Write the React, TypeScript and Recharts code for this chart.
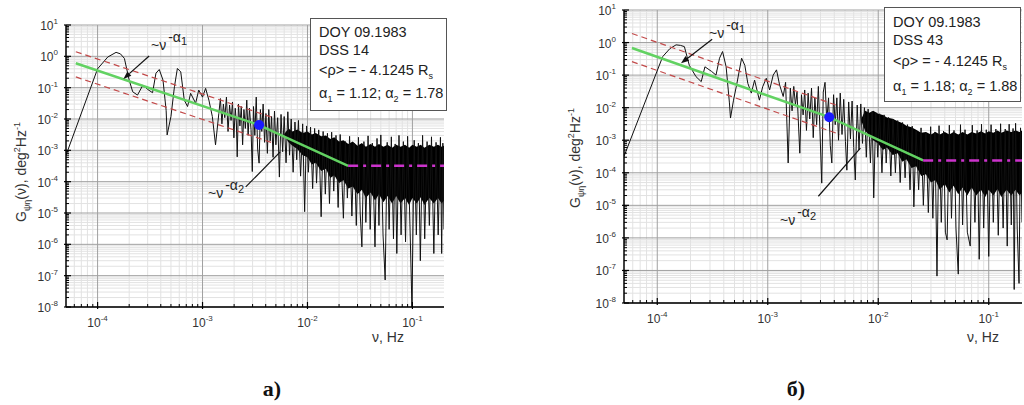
import React from "react"
import { ComposedChart, Line, Area, Scatter, XAxis, YAxis, ReferenceLine } from "recharts"

const FONT = '"Liberation Sans", Arial, sans-serif'

// axis decades
const xMajor = [1e-4, 1e-3, 1e-2, 1e-1]
const yMajor = [1e-8, 1e-7, 1e-6, 1e-5, 1e-4, 1e-3, 1e-2, 1e-1, 1, 10]
const minorSteps = [2, 3, 4, 5, 6, 7, 8, 9]
const xDecades = [1e-5, 1e-4, 1e-3, 1e-2, 1e-1]
const yDecades = [1e-8, 1e-7, 1e-6, 1e-5, 1e-4, 1e-3, 1e-2, 1e-1, 1]
const xDomain = [5e-5, 0.2]
const yDomain = [1e-8, 10]

// panel a) DSS 14 — spectrum [freq, G]
const spectrumA = [
  [5e-5, 7e-4], [1.0e-4, 0.4], [1.25e-4, 0.95], [1.5e-4, 1.34], [1.65e-4, 1.2], [1.8e-4, 0.86],
  [2.0e-4, 0.175], [2.16e-4, 0.074], [2.4e-4, 0.058], [2.7e-4, 0.12], [3.0e-4, 0.088], [3.34e-4, 0.069],
  [3.6e-4, 0.29], [3.87e-4, 0.38], [4.2e-4, 0.175], [4.5e-4, 0.019], [4.6e-4, 3.1e-3], [5.0e-4, 0.012],
  [5.4e-4, 0.107], [5.76e-4, 0.41], [6.2e-4, 0.32], [6.7e-4, 0.04], [7.2e-4, 0.025], [7.7e-4, 0.066],
  [8.6e-4, 0.032], [9.2e-4, 0.084], [1.0e-3, 0.05], [1.07e-3, 0.095], [1.15e-3, 0.04], [1.24e-3, 0.012],
  [1.33e-3, 1.5e-3], [1.43e-3, 0.015], [1.48e-3, 0.045], [1.53e-3, 0.007], [1.58e-3, 0.03], [1.63e-3, 0.011],
  [1.69e-3, 0.05], [1.75e-3, 0.004], [1.81e-3, 0.028], [1.87e-3, 0.009], [1.93e-3, 0.035], [1.99e-3, 0.0025],
  [2.05e-3, 0.022], [2.1e-3, 0.008], [2.14e-3, 6.2e-4], [2.2e-3, 0.03], [2.27e-3, 0.006], [2.34e-3, 0.025],
  [2.41e-3, 0.0015], [2.48e-3, 0.02], [2.56e-3, 0.005], [2.64e-3, 0.04], [2.72e-3, 0.003], [2.8e-3, 0.022],
  [2.9e-3, 0.0045], [2.98e-3, 2.1e-4], [3.06e-3, 0.025], [3.15e-3, 0.003], [3.25e-3, 0.05], [3.35e-3, 0.0011],
  [3.46e-3, 3.9e-4], [3.56e-3, 0.02], [3.67e-3, 0.004], [3.78e-3, 0.03], [3.9e-3, 0.0018], [4.02e-3, 0.015],
  [4.15e-3, 8e-4], [4.28e-3, 0.02], [4.41e-3, 0.002], [4.55e-3, 0.012], [4.7e-3, 6e-4], [4.85e-3, 0.018],
  [5.0e-3, 0.0015], [5.2e-3, 0.011], [5.4e-3, 1.4e-4], [5.6e-3, 0.014], [5.8e-3, 9e-4], [6.0e-3, 0.012],
  [6.25e-3, 4e-4], [6.5e-3, 0.017], [6.75e-3, 7e-4], [7.0e-3, 0.01], [7.3e-3, 2e-4], [7.6e-3, 0.008],
  [7.9e-3, 5e-4], [8.2e-3, 0.009], [8.6e-3, 1.5e-4], [9.0e-3, 0.007], [9.4e-3, 1.1e-5], [9.8e-3, 0.006],
  [1.02e-2, 2e-4], [1.07e-2, 0.0055], [1.12e-2, 6e-5], [1.17e-2, 0.005], [1.22e-2, 9e-5], [1.28e-2, 0.0045],
  [1.35e-2, 7.6e-6], [1.41e-2, 0.004], [1.48e-2, 4e-5], [1.55e-2, 0.0035], [1.62e-2, 2e-5], [1.7e-2, 0.0038],
  [1.78e-2, 5e-5], [1.87e-2, 0.003], [1.96e-2, 1.5e-5], [2.05e-2, 0.0032], [2.2e-2, 6.8e-6], [2.3e-2, 0.0019],
  [2.4e-2, 3e-5], [2.52e-2, 0.0028], [2.65e-2, 8e-6], [2.78e-2, 0.0017], [2.92e-2, 4e-6], [3.06e-2, 0.0026],
  [3.18e-2, 1e-5], [3.3e-2, 8.3e-7], [3.45e-2, 0.0019], [3.6e-2, 5e-6], [3.78e-2, 0.0029], [3.96e-2, 3e-6],
  [4.15e-2, 0.0017], [4.4e-2, 8.3e-7], [4.6e-2, 0.0024], [4.8e-2, 4e-6], [5.0e-2, 0.0031], [5.25e-2, 2e-6],
  [5.5e-2, 7.3e-8], [5.75e-2, 0.0018], [6.0e-2, 3e-6], [6.3e-2, 0.0027], [6.6e-2, 1.5e-6], [6.85e-2, 0.0016],
  [7.1e-2, 5.1e-7], [7.45e-2, 0.003], [7.8e-2, 2e-6], [8.2e-2, 0.0019], [8.6e-2, 1.2e-6], [9.0e-2, 0.0028],
  [9.5e-2, 3e-6], [9.9e-2, 1e-8], [1.04e-1, 0.0021], [1.09e-1, 2e-6], [1.14e-1, 0.0017], [1.19e-1, 3e-7],
  [1.25e-1, 0.003], [1.31e-1, 1.5e-6], [1.38e-1, 0.0019], [1.45e-1, 4e-6], [1.52e-1, 0.0027], [1.6e-1, 5.1e-7],
  [1.68e-1, 0.0018], [1.76e-1, 2e-6], [1.85e-1, 0.0026], [1.9e-1, 5.1e-7], [1.95e-1, 0.0017], [2.0e-1, 3e-6],
]
// dense (solid black) part of the spectrum [freq, low, high]
const bandA = [
  [6.0e-3, 3e-3, 3.3e-3], [6.6e-3, 1.8e-3, 5e-3], [7.2e-3, 1.4e-3, 4e-3], [8.0e-3, 1.1e-3, 4.6e-3],
  [9.0e-3, 7e-4, 3.6e-3], [1.0e-2, 6e-4, 4e-3], [1.1e-2, 3.5e-4, 3.2e-3], [1.2e-2, 4e-4, 3.6e-3],
  [1.35e-2, 2.2e-4, 2.8e-3], [1.5e-2, 2.6e-4, 3e-3], [1.65e-2, 1.3e-4, 2.3e-3], [1.8e-2, 1.6e-4, 2.6e-3],
  [2.0e-2, 9e-5, 1.9e-3], [2.2e-2, 1.1e-4, 2.1e-3], [2.45e-2, 6e-5, 1.6e-3], [2.7e-2, 7e-5, 1.9e-3],
  [3.0e-2, 4e-5, 1.4e-3], [3.3e-2, 5.5e-5, 1.7e-3], [3.6e-2, 3e-5, 1.3e-3], [4.0e-2, 4.5e-5, 1.6e-3],
  [4.4e-2, 2.5e-5, 1.3e-3], [4.8e-2, 4e-5, 1.6e-3], [5.3e-2, 2.2e-5, 1.3e-3], [5.8e-2, 3.5e-5, 1.5e-3],
  [6.4e-2, 2e-5, 1.2e-3], [7.0e-2, 3.5e-5, 1.5e-3], [7.7e-2, 2e-5, 1.3e-3], [8.5e-2, 3e-5, 1.5e-3],
  [9.3e-2, 1.8e-5, 1.2e-3], [0.1, 3e-5, 1.5e-3], [0.11, 2e-5, 1.3e-3], [0.12, 3.2e-5, 1.5e-3],
  [0.13, 1.8e-5, 1.2e-3], [0.145, 3e-5, 1.5e-3], [0.16, 2e-5, 1.3e-3], [0.175, 3e-5, 1.5e-3],
  [0.19, 2e-5, 1.3e-3], [0.2, 2.5e-5, 1.4e-3],
]
const fitA = [[6.2e-5, 0.6], [3.46e-3, 6.4e-3], [0.0244, 3.2e-4]]
const upperA = [[6.2e-5, 1.4], [4.5e-3, 0.0116]]
const lowerA = [[6.2e-5, 0.22], [4.5e-3, 1.8e-3]]
const plateauA = [[0.0244, 3.2e-4], [0.2, 3.2e-4]]
const breakA = [[3.46e-3, 6.4e-3]]
const alpha1ArrowA = [[3.1e-4, 1.02], [1.76e-4, 0.19]]
const alpha2LineA = [[2.58e-3, 6.8e-5], [5.5e-3, 8.9e-4]]

// panel б) DSS 43
const spectrumB = [
  [5e-5, 3.2e-4], [1.12e-4, 0.37], [1.3e-4, 0.65], [1.48e-4, 0.85], [1.62e-4, 0.82], [1.76e-4, 0.75],
  [1.95e-4, 0.2], [2.24e-4, 0.09], [2.5e-4, 0.063], [2.7e-4, 0.18], [3.1e-4, 0.13], [3.4e-4, 0.1],
  [3.66e-4, 0.33], [3.9e-4, 0.53], [4.2e-4, 0.18], [4.5e-4, 0.014], [4.6e-4, 4.8e-3], [4.9e-4, 0.017],
  [5.26e-4, 0.056], [5.8e-4, 0.33], [6.2e-4, 0.2], [6.6e-4, 0.056], [7.1e-4, 0.028], [7.6e-4, 0.07],
  [8.4e-4, 0.017], [9.0e-4, 0.044], [9.7e-4, 0.08], [1.04e-3, 0.035], [1.12e-3, 0.1], [1.2e-3, 0.145],
  [1.28e-3, 0.05], [1.38e-3, 0.022], [1.45e-3, 0.06], [1.53e-3, 2e-4], [1.6e-3, 0.04], [1.66e-3, 0.008],
  [1.72e-3, 0.045], [1.78e-3, 0.012], [1.84e-3, 0.03], [1.95e-3, 4e-4], [2.02e-3, 0.025], [2.09e-3, 0.006],
  [2.16e-3, 0.035], [2.24e-3, 0.002], [2.32e-3, 0.028], [2.4e-3, 0.0045], [2.49e-3, 0.04], [2.58e-3, 0.0012],
  [2.67e-3, 0.02], [2.77e-3, 0.003], [2.87e-3, 0.045], [2.97e-3, 0.0018], [3.08e-3, 4.8e-5], [3.18e-3, 0.03],
  [3.3e-3, 0.06], [3.42e-3, 0.004], [3.55e-3, 0.02], [3.68e-3, 7e-4], [3.8e-3, 2e-4], [3.94e-3, 0.025],
  [4.08e-3, 0.003], [4.22e-3, 0.02], [4.37e-3, 0.001], [4.53e-3, 0.028], [4.7e-3, 0.0015], [4.87e-3, 0.018],
  [5.05e-3, 9e-4], [5.2e-3, 1.2e-4], [5.4e-3, 0.015], [5.6e-3, 0.0011], [5.8e-3, 0.016], [6.0e-3, 6e-4],
  [6.2e-3, 6e-5], [6.45e-3, 0.012], [6.7e-3, 5e-4], [6.95e-3, 0.013], [7.2e-3, 8e-4], [7.5e-3, 0.01],
  [7.8e-3, 3e-4], [8.1e-3, 0.009], [8.5e-3, 2e-4], [8.8e-3, 0.0075], [9.1e-3, 1.7e-5], [9.5e-3, 0.007],
  [9.9e-3, 3e-4], [1.03e-2, 0.0065], [1.08e-2, 1e-4], [1.13e-2, 0.006], [1.18e-2, 2e-4], [1.24e-2, 0.005],
  [1.3e-2, 8e-5], [1.36e-2, 0.0045], [1.43e-2, 1e-4], [1.5e-2, 0.004], [1.58e-2, 5e-5], [1.66e-2, 0.0035],
  [1.75e-2, 7e-5], [1.84e-2, 0.003], [1.94e-2, 3e-5], [2.03e-2, 0.0027], [2.1e-2, 9e-6], [2.2e-2, 0.0019],
  [2.32e-2, 3e-5], [2.44e-2, 0.0024], [2.56e-2, 1e-5], [2.7e-2, 0.0017], [2.84e-2, 6e-6], [2.98e-2, 0.0026],
  [3.12e-2, 4e-6], [3.26e-2, 0.0018], [3.4e-2, 6.7e-8], [3.55e-2, 0.0028], [3.72e-2, 3e-6], [3.9e-2, 0.0019],
  [4.05e-2, 1.5e-6], [4.2e-2, 8.7e-7], [4.4e-2, 0.0029], [4.6e-2, 4e-6], [4.85e-2, 0.002], [5.05e-2, 2e-6],
  [5.3e-2, 7.7e-8], [5.55e-2, 0.003], [5.8e-2, 2.5e-6], [6.1e-2, 0.0021], [6.4e-2, 1.5e-6], [6.8e-2, 5.6e-7],
  [7.1e-2, 0.0029], [7.5e-2, 3e-6], [7.85e-2, 0.002], [8.2e-2, 2.2e-7], [8.6e-2, 0.0031], [9.0e-2, 2e-6],
  [9.5e-2, 0.0021], [1.0e-1, 2.7e-7], [1.05e-1, 0.003], [1.1e-1, 3e-6], [1.16e-1, 0.0022], [1.22e-1, 1.2e-6],
  [1.28e-1, 0.0032], [1.35e-1, 2e-6], [1.41e-1, 0.0022], [1.47e-1, 5.6e-7], [1.53e-1, 0.0031], [1.6e-1, 2.5e-6],
  [1.66e-1, 0.0023], [1.7e-1, 2.6e-8], [1.75e-1, 0.0033], [1.81e-1, 2e-6], [1.88e-1, 4e-8], [1.94e-1, 0.0024],
  [2.0e-1, 3e-6],
]
const bandB = [
  [7.0e-3, 4e-3, 4.4e-3], [7.6e-3, 2e-3, 8e-3], [8.3e-3, 1.4e-3, 7e-3], [9.0e-3, 1e-3, 8e-3],
  [1.0e-2, 8e-4, 6.5e-3], [1.1e-2, 5e-4, 6e-3], [1.2e-2, 6e-4, 5e-3], [1.35e-2, 3.5e-4, 4.6e-3],
  [1.5e-2, 4e-4, 3.8e-3], [1.65e-2, 2.2e-4, 3.4e-3], [1.8e-2, 2.6e-4, 2.8e-3], [2.0e-2, 1.4e-4, 2.5e-3],
  [2.2e-2, 1.6e-4, 2.1e-3], [2.45e-2, 8e-5, 1.7e-3], [2.7e-2, 9e-5, 1.8e-3], [3.0e-2, 5e-5, 1.5e-3],
  [3.3e-2, 6e-5, 1.8e-3], [3.6e-2, 3e-5, 1.5e-3], [4.0e-2, 4.5e-5, 1.8e-3], [4.4e-2, 2.5e-5, 1.5e-3],
  [4.8e-2, 4e-5, 1.8e-3], [5.3e-2, 2.2e-5, 1.5e-3], [5.8e-2, 3.5e-5, 1.8e-3], [6.4e-2, 2e-5, 1.5e-3],
  [7.0e-2, 3.5e-5, 1.8e-3], [7.7e-2, 2e-5, 1.6e-3], [8.5e-2, 3e-5, 1.9e-3], [9.3e-2, 1.8e-5, 1.6e-3],
  [0.1, 3e-5, 1.9e-3], [0.11, 2e-5, 1.7e-3], [0.12, 3.2e-5, 2e-3], [0.13, 1.8e-5, 1.7e-3],
  [0.145, 3e-5, 2e-3], [0.16, 2e-5, 1.8e-3], [0.175, 3e-5, 2e-3], [0.19, 2e-5, 1.8e-3],
  [0.2, 2.5e-5, 2e-3],
]
const fitB = [[5.9e-5, 0.68], [3.6e-3, 5.1e-3], [0.0255, 2.4e-4]]
const upperB = [[5.9e-5, 1.9], [4.5e-3, 0.0109]]
const lowerB = [[5.9e-5, 0.26], [4.5e-3, 1.5e-3]]
const plateauB = [[0.0255, 2.4e-4], [0.2, 2.4e-4]]
const breakB = [[3.6e-3, 5.1e-3]]
const alpha1ArrowB = [[3.14e-4, 1.26], [1.64e-4, 0.23]]
const alpha2LineB = [[2.87e-3, 1.9e-5], [6.9e-3, 5.7e-4]]

const xMinor = xDecades.flatMap((d) => minorSteps.map((s) => s * d)).filter((v) => v > 5.01e-5 && v < 0.199)
const yMinor = yDecades.flatMap((d) => minorSteps.map((s) => s * d))
const xTicks = [...xMinor, ...xMajor].sort((a, b) => a - b)
const yTicks = [...yMinor, ...yMajor].sort((a, b) => a - b)

const pts = (a: number[][]) => a.map(([f, v]) => ({ f, v }))
const bandPts = (a: number[][]) => a.map(([f, lo, hi]) => ({ f, band: [lo, hi] }))
const seg = (a: number[][]) => a.map(([x, y]) => ({ x, y }))

const isMajor = (v: number) => Math.abs(Math.log10(v) - Math.round(Math.log10(v))) < 1e-6

function XTick(props: any) {
  const { x, y, payload } = props
  const v = payload.value
  if (!isMajor(v)) return <line x1={x} x2={x} y1={y} y2={y - 3} stroke="#000" />
  const e = Math.round(Math.log10(v))
  return (
    <g>
      <line x1={x} x2={x} y1={y + 2} y2={y - 5} stroke="#000" strokeWidth={1.2} />
      <text x={x} y={y + 20} textAnchor="middle" fontSize={12} fill="#333" fontFamily={FONT}>
        <tspan>10</tspan>
        <tspan dy={-6} fontSize={8}>{e}</tspan>
      </text>
    </g>
  )
}

function YTick(props: any) {
  const { x, y, payload } = props
  const v = payload.value
  if (!isMajor(v)) return <line x1={x} x2={x + 3} y1={y} y2={y} stroke="#000" />
  const e = Math.round(Math.log10(v))
  return (
    <g>
      <line x1={x - 2} x2={x + 5} y1={y} y2={y} stroke="#000" strokeWidth={1.2} />
      <text x={x - 8} y={y + 5} textAnchor="end" fontSize={12} fill="#333" fontFamily={FONT}>
        <tspan>10</tspan>
        <tspan dy={-6} fontSize={8}>{e}</tspan>
      </text>
    </g>
  )
}

function ArrowShape(props: any) {
  const { x1, y1, x2, y2 } = props
  const ang = Math.atan2(y2 - y1, x2 - x1)
  const bx = x2 - 8 * Math.cos(ang)
  const by = y2 - 8 * Math.sin(ang)
  const px = -Math.sin(ang) * 3
  const py = Math.cos(ang) * 3
  return (
    <g>
      <line x1={x1} y1={y1} x2={bx} y2={by} stroke="#111" strokeWidth={1.2} />
      <polygon points={`${x2},${y2} ${bx + px},${by + py} ${bx - px},${by - py}`} fill="#111" />
    </g>
  )
}

function Panel(props: any) {
  const { left, top, width, height, margin, spectrum, band, fit, upper, lower, plateau, dot, arrow1, line2 } = props
  return (
    <div style={{ position: "absolute", left, top }}>
      <ComposedChart width={width} height={height} margin={margin}>
        <XAxis
          type="number"
          dataKey="f"
          scale="log"
          domain={xDomain}
          allowDataOverflow
          ticks={xTicks}
          interval={0}
          tickLine={false}
          tickSize={0}
          tickMargin={0}
          height={30}
          axisLine={{ stroke: "#000", strokeWidth: 1.5 }}
          tick={XTick}
        />
        <YAxis
          type="number"
          scale="log"
          domain={yDomain}
          allowDataOverflow
          ticks={yTicks}
          interval={0}
          tickLine={false}
          tickSize={0}
          tickMargin={0}
          width={50}
          axisLine={{ stroke: "#000", strokeWidth: 1.5 }}
          tick={YTick}
        />
        {xMinor.map((v) => <ReferenceLine key={"xm" + v} x={v} stroke="#e2e2e2" zIndex={-100} />)}
        {yMinor.map((v) => <ReferenceLine key={"ym" + v} y={v} stroke="#e2e2e2" zIndex={-100} />)}
        {xMajor.map((v) => <ReferenceLine key={"xM" + v} x={v} stroke="#a0a0a0" zIndex={-100} />)}
        {yMajor.map((v) => <ReferenceLine key={"yM" + v} y={v} stroke="#a0a0a0" zIndex={-100} />)}
        <Area data={bandPts(band)} dataKey="band" type="linear" fill="#000" fillOpacity={1} stroke="none" isAnimationActive={false} />
        <Line data={pts(spectrum)} dataKey="v" type="linear" stroke="#111" strokeWidth={1} dot={false} isAnimationActive={false} />
        <Line data={pts(upper)} dataKey="v" stroke="#c24a4a" strokeWidth={1.2} strokeDasharray="6 4" dot={false} isAnimationActive={false} />
        <Line data={pts(lower)} dataKey="v" stroke="#c24a4a" strokeWidth={1.2} strokeDasharray="6 4" dot={false} isAnimationActive={false} />
        <Line data={pts(fit)} dataKey="v" stroke="#62d262" strokeWidth={2.5} dot={false} isAnimationActive={false} />
        <Line data={pts(plateau)} dataKey="v" stroke="#cc33cc" strokeWidth={2.5} strokeDasharray="10 5 3 5" dot={false} isAnimationActive={false} />
        <Scatter data={pts(dot)} dataKey="v" fill="#1a1aff" shape={(p: any) => <circle cx={p.cx} cy={p.cy} r={5} fill="#1a1aff" />} isAnimationActive={false} />
        <ReferenceLine segment={seg(arrow1)} shape={ArrowShape} zIndex={1000} />
        <ReferenceLine segment={seg(line2)} stroke="#111" strokeWidth={1.2} zIndex={1000} />
      </ComposedChart>
    </div>
  )
}

function Power({ left, top, sub }: any) {
  return (
    <div style={{ position: "absolute", left, top, font: `14px ${FONT}`, color: "#222", whiteSpace: "nowrap" }}>
      ~ν
      <span style={{ position: "relative", top: -8, marginLeft: 2 }}>
        -α<span style={{ fontSize: 11, position: "relative", top: 3 }}>{sub}</span>
      </span>
    </div>
  )
}

function InfoBox({ left, top, width, height, dss, a1, a2, rows }: any) {
  const line = (t: number, c: any) => (
    <div style={{ position: "absolute", left: 8, top: t - 9, whiteSpace: "nowrap" }}>{c}</div>
  )
  const sub = (s: string) => <span style={{ fontSize: 9, position: "relative", top: 4 }}>{s}</span>
  return (
    <div
      style={{
        position: "absolute", left, top, width, height, boxSizing: "border-box",
        border: "1px solid #555", background: "#fff", font: `14.5px ${FONT}`, color: "#222",
      }}
    >
      {line(rows[0], "DOY 09.1983")}
      {line(rows[1], "DSS " + dss)}
      {line(rows[2], <>{"<ρ> = - 4.1245 R"}{sub("s")}</>)}
      {line(rows[3], <>α{sub("1")}{" = " + a1 + "; α"}{sub("2")}{" = " + a2}</>)}
    </div>
  )
}

function YLabel({ cx, cy }: any) {
  const s = { fontSize: 9 }
  return (
    <div
      style={{
        position: "absolute", left: cx, top: cy, transform: "translate(-50%,-50%) rotate(-90deg)",
        whiteSpace: "nowrap", font: `14px ${FONT}`, color: "#333",
      }}
    >
      G<sub style={s}>ψη</sub>(ν), deg<sup style={s}>2</sup>Hz<sup style={s}>-1</sup>
    </div>
  )
}

function Caption({ cx, top, text }: any) {
  return (
    <div style={{ position: "absolute", left: cx, top, transform: "translateX(-50%)", font: "bold 22px 'Liberation Serif', serif", color: "#111" }}>
      {text}
    </div>
  )
}

function XLabel({ cx, top }: any) {
  return (
    <div style={{ position: "absolute", left: cx, top, transform: "translateX(-50%)", font: `14px ${FONT}`, color: "#333", whiteSpace: "nowrap" }}>
      ν, Hz
    </div>
  )
}

export default function App() {
  return (
    <div style={{ position: "absolute", left: 0, top: 0, width: 1024, height: 405, background: "#fff", overflow: "hidden" }}>
      <Panel
        left={0} top={0} width={460} height={347}
        margin={{ top: 25, right: 16, bottom: 10, left: 16 }}
        spectrum={spectrumA} band={bandA} fit={fitA} upper={upperA} lower={lowerA}
        plateau={plateauA} dot={breakA} arrow1={alpha1ArrowA} line2={alpha2LineA}
      />
      <Panel
        left={560} top={0} width={464} height={343}
        margin={{ top: 10, right: 2, bottom: 10, left: 14 }}
        spectrum={spectrumB} band={bandB} fit={fitB} upper={upperB} lower={lowerB}
        plateau={plateauB} dot={breakB} arrow1={alpha1ArrowB} line2={alpha2LineB}
      />
      <YLabel cx={22} cy={172} />
      <YLabel cx={576} cy={158} />
      <XLabel cx={388} top={329} />
      <XLabel cx={983} top={329} />
      <Power left={151} top={37} sub="1" />
      <Power left={208} top={185} sub="2" />
      <Power left={709} top={25} sub="1" />
      <Power left={780} top={212} sub="2" />
      <InfoBox left={310} top={18} width={137} height={93} dss="14" a1="1.12" a2="1.78" rows={[14, 32, 52, 75]} />
      <InfoBox left={884} top={7} width={137} height={95} dss="43" a1="1.18" a2="1.88" rows={[15, 33, 54, 79]} />
      <Caption cx={272} top={376} text="а)" />
      <Caption cx={796} top={376} text="б)" />
    </div>
  )
}
